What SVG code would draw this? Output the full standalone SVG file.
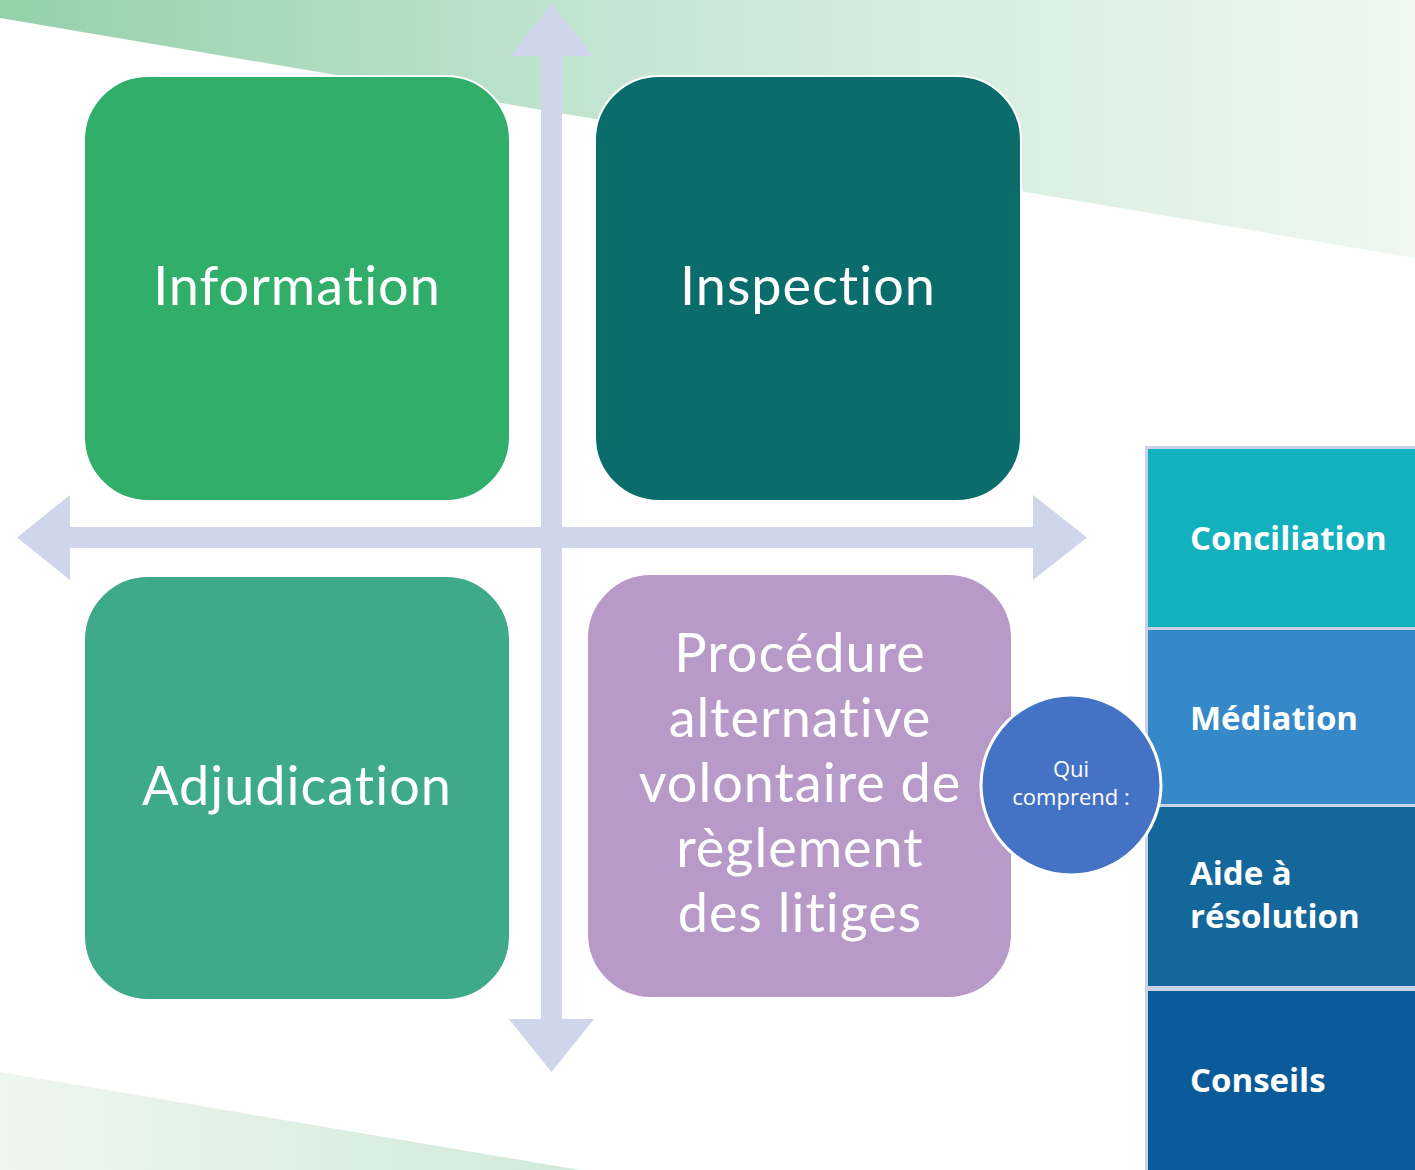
<svg xmlns="http://www.w3.org/2000/svg" width="1415" height="1170" viewBox="0 0 1415 1170">
<defs>
<linearGradient id="gTop" x1="0" y1="0" x2="1" y2="0">
<stop offset="0" stop-color="#93D1AA"/>
<stop offset="0.45" stop-color="#C6E6D3"/>
<stop offset="1" stop-color="#EFF8F2"/>
</linearGradient>
<linearGradient id="gBot" x1="0" y1="0" x2="1" y2="0">
<stop offset="0" stop-color="#EEF6F0"/>
<stop offset="1" stop-color="#D0EADA"/>
</linearGradient>
<style>
.q{stroke:#FFFFFF;stroke-width:2}
.qt{font-family:Lato,"Open Sans","Liberation Sans",sans-serif;font-size:54px;letter-spacing:1px;font-variant-ligatures:none;font-feature-settings:"liga" 0;fill:#FFFFFF;text-anchor:middle}
.rt{font-family:"Open Sans","Liberation Sans",sans-serif;font-size:33px;font-weight:bold;fill:#FFFFFF}
.ct{font-family:"Open Sans","Liberation Sans",sans-serif;font-size:22px;fill:#FFFFFF;text-anchor:middle}
.arrow{fill:#CFD5EA}
</style>
</defs>
<rect width="1415" height="1170" fill="#FFFFFF"/>
<polygon points="0,0 1415,0 1415,258 0,18" fill="url(#gTop)"/>
<polygon points="0,1072 580,1170 0,1170" fill="url(#gBot)"/>
<g id="connectors">
<polygon class="arrow" points="551.5,4 593,56 562,56 562,1019 594,1019 551.5,1072 509,1019 541,1019 541,56 510,56"/>
<polygon class="arrow" points="17,537.5 70,495 70,527 1033,527 1033,495 1087,537.5 1033,580 1033,548 70,548 70,580"/>
</g>
<g id="information">
<rect class="q" x="84" y="76" width="426" height="425" rx="64" fill="#31AE69"/>
<text class="qt" x="297" y="305">Information</text>
</g>
<g id="inspection">
<rect class="q" x="595" y="76" width="426" height="425" rx="64" fill="#0B6C6C"/>
<text class="qt" x="808" y="305">Inspection</text>
</g>
<g id="adjudication">
<rect class="q" x="84" y="576" width="426" height="424" rx="64" fill="#3EAA8A"/>
<text class="qt" x="297" y="805">Adjudication</text>
</g>
<g id="procedure">
<rect class="q" x="587" y="574" width="425" height="424" rx="64" fill="#B89AC8"/>
<text class="qt" x="800" y="672">Procédure</text>
<text class="qt" x="800" y="737">alternative</text>
<text class="qt" x="800" y="802">volontaire de</text>
<text class="qt" x="800" y="867">règlement</text>
<text class="qt" x="800" y="932">des litiges</text>
</g>
<rect x="1145" y="446" width="270" height="724" fill="#C9D2E4"/>
<g id="conciliation">
<rect x="1148" y="449" width="267" height="178" fill="#13B1BE"/>
<text class="rt" x="1190" y="550">Conciliation</text>
</g>
<g id="mediation">
<rect x="1148" y="630" width="267" height="174" fill="#3589C8"/>
<text class="rt" x="1190" y="730">Médiation</text>
</g>
<g id="aide">
<rect x="1148" y="807" width="267" height="179" fill="#13679A"/>
<text class="rt" x="1190" y="885">Aide à</text>
<text class="rt" x="1190" y="928">résolution</text>
</g>
<g id="conseils">
<rect x="1148" y="991" width="267" height="179" fill="#0B5A9A"/>
<text class="rt" x="1190" y="1092">Conseils</text>
</g>
<g id="qui-comprend">
<circle cx="1071" cy="785" r="90" fill="#4472C4" stroke="#FFFFFF" stroke-width="3"/>
<text class="ct" x="1071" y="777">Qui</text>
<text class="ct" x="1071" y="805">comprend :</text>
</g>
</svg>
